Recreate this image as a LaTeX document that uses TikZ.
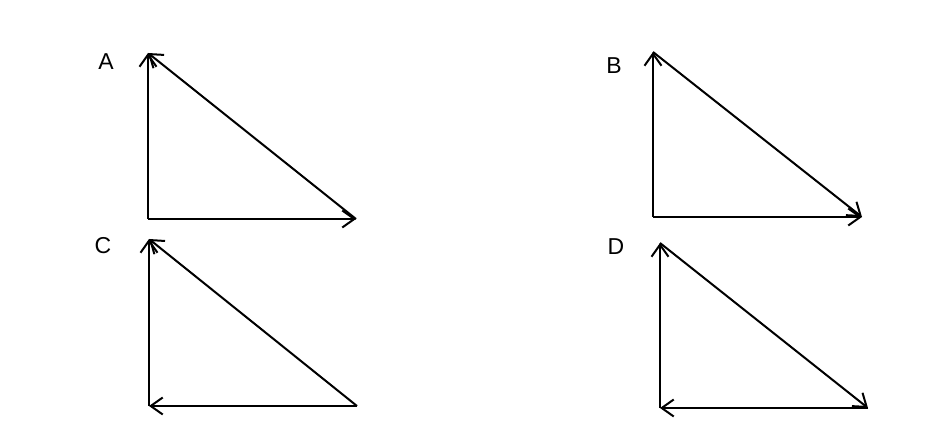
\documentclass[tikz,border=0pt]{standalone}
\usepackage{fontspec}
\setmainfont{Liberation Sans}
\usetikzlibrary{arrows.meta}
\begin{document}
\begin{tikzpicture}[x=1pt,y=-1pt,
  vec/.style={line width=2pt,-{Straight Barb[length=12pt,width=17pt,line width=2pt]}},
  lbl/.style={font=\fontsize{23}{27}\selectfont,inner sep=0pt}]
\useasboundingbox (0,0) rectangle (932,438);
% A
\coordinate (at) at (148,53); \coordinate (al) at (148,219); \coordinate (ar) at (356,219);
\node[lbl] (la) at (106,62) {A};
\draw[vec] (al) -- (at);
\draw[vec] (al) -- (ar);
\draw[vec] (ar) -- (at);
% B
\coordinate (bt) at (653,52); \coordinate (bl) at (653,217); \coordinate (br) at (862,217);
\node[lbl] (lb) at (614,66) {B};
\draw[vec] (bl) -- (bt);
\draw[vec] (bl) -- (br);
\draw[vec] (bt) -- (br);
% C
\coordinate (ct) at (149,239); \coordinate (cl) at (149,406); \coordinate (cr) at (357,406);
\node[lbl] (lc) at (103,246) {C};
\draw[vec] (cl) -- (ct);
\draw[vec] (cr) -- (cl);
\draw[vec] (cr) -- (ct);
% D
\coordinate (dt) at (660,243); \coordinate (dl) at (660,408); \coordinate (dr) at (868,408);
\node[lbl] (ld) at (616,247) {D};
\draw[vec] (dl) -- (dt);
\draw[vec] (dr) -- (dl);
\draw[vec] (dt) -- (dr);
\end{tikzpicture}
\end{document}
